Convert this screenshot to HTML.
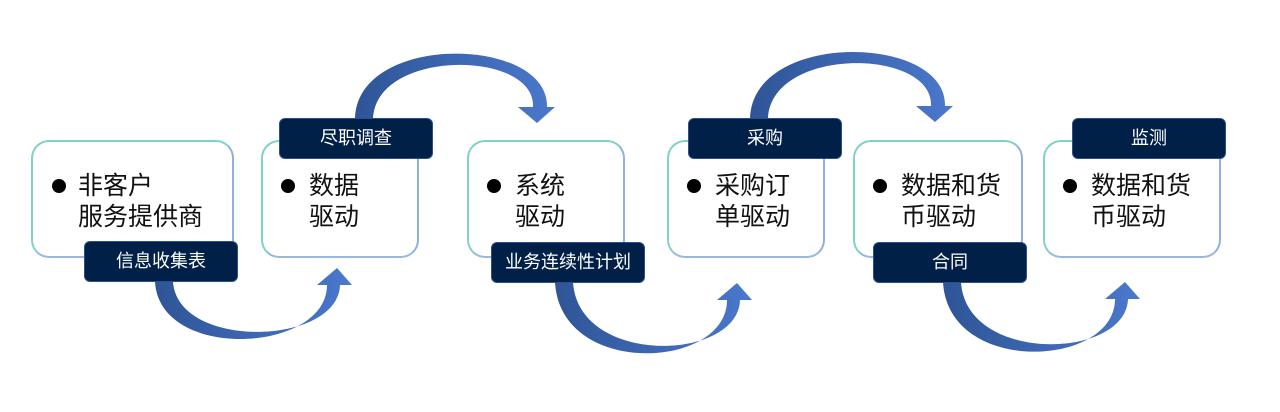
<!DOCTYPE html>
<html><head><meta charset="utf-8"><style>
body{margin:0;width:1280px;height:412px;background:#fff;position:relative;overflow:hidden;font-family:"Liberation Sans","Noto Sans CJK SC",sans-serif}
.box{position:absolute;top:140px;height:118px;border:2px solid #7fd3c4;border-right-color:#8fb0e0;border-bottom-color:#9ab8e0;border-radius:18px;background:#fff;box-sizing:border-box}
.t{position:absolute;top:29px;font-size:25px;line-height:31px;color:#111}
.b{position:absolute;top:37px;width:14px;height:14px;border-radius:50%;background:#000}
.lab{position:absolute;width:154px;height:41px;background:#002048;border:1px solid #2a4f8a;border-radius:6px;box-sizing:border-box;color:#fff;font-size:18px;line-height:39px;text-align:center}
svg{position:absolute;left:0;top:0}
</style></head><body>
<div class="box" style="left:31px;width:203px"><div class="b" style="left:19px"></div><div class="t" style="left:45px">非客户<br>服务提供商</div></div>
<div class="box" style="left:261px;width:158px"><div class="b" style="left:18px"></div><div class="t" style="left:46px">数据<br>驱动</div></div>
<div class="box" style="left:467px;width:158px"><div class="b" style="left:18px"></div><div class="t" style="left:46px">系统<br>驱动</div></div>
<div class="box" style="left:667px;width:158px"><div class="b" style="left:18px"></div><div class="t" style="left:46px">采购订<br>单驱动</div></div>
<div class="box" style="left:853px;width:170px"><div class="b" style="left:18px"></div><div class="t" style="left:46px">数据和货<br>币驱动</div></div>
<div class="box" style="left:1043px;width:178px"><div class="b" style="left:18px"></div><div class="t" style="left:46px">数据和货<br>币驱动</div></div>
<svg width="1280" height="412">
<defs><linearGradient id="g" x1="0" y1="0" x2="1" y2="0"><stop offset="0" stop-color="#2f5597"/><stop offset="1" stop-color="#4a78cc"/></linearGradient></defs>
<g fill="url(#g)">
<path d="M155,282 C160,362 327,353 327,285 L317,285 L337,268 L352,285 L340,285 C338,346 178,350 173,282 Z"/>
<path d="M555,282 C560,378 727,370 727,300 L717,300 L737,283 L752,300 L740,300 C738,362 578,366 573,282 Z"/>
<path d="M943,282 C948,376 1115,368 1115,299 L1105,299 L1125,282 L1140,299 L1128,299 C1126,360 966,364 961,282 Z"/>
<path d="M355,118 C358,32 549,36 547,107 L555,107 L537,123 L518,107 L533,107 C536,50 377,48 373,118 Z"/>
<path d="M750,118 C753,30 947,34 945,106 L953,106 L935,122 L916,106 L931,106 C934,48 772,46 768,118 Z"/>
</g></svg>
<div class="lab" style="left:84px;top:241px">信息收集表</div>
<div class="lab" style="left:279px;top:118px">尽职调查</div>
<div class="lab" style="left:491px;top:242px">业务连续性计划</div>
<div class="lab" style="left:688px;top:118px">采购</div>
<div class="lab" style="left:873px;top:242px">合同</div>
<div class="lab" style="left:1072px;top:118px">监测</div>
</body></html>
